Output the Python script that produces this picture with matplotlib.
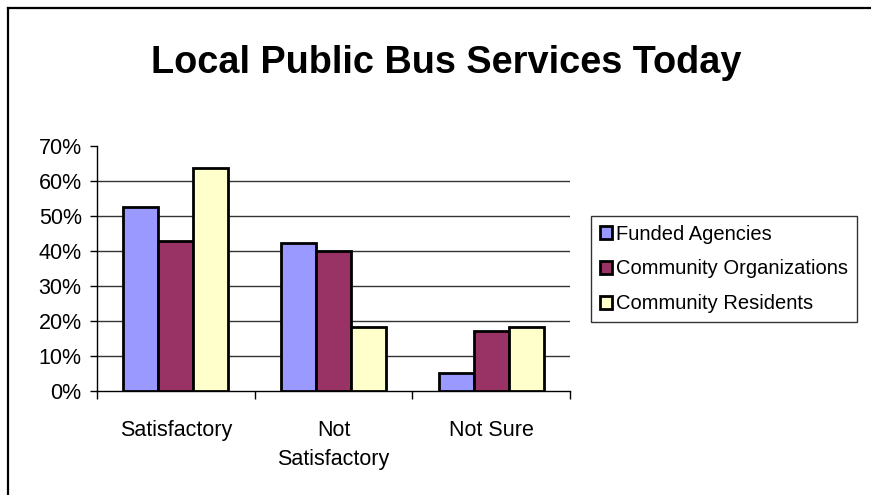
import matplotlib
matplotlib.use("Agg")
import matplotlib.pyplot as plt
from matplotlib.lines import Line2D
import numpy as np

plt.rcParams["font.family"] = ["Liberation Sans", "DejaVu Sans"]

categories = ["Satisfactory", "Not\nSatisfactory", "Not Sure"]
groups = ["Funded Agencies", "Community Organizations", "Community Residents"]
funded = [52.6, 42.1, 5.2]
community_orgs = [42.9, 40.0, 17.0]
residents = [63.6, 18.1, 18.1]
colors = ["#9999FF", "#993366", "#FFFFCC"]

W, H = 871, 495
fig = plt.figure(figsize=(W / 100, H / 100), dpi=100)

# outer chart border (only top and left edges show)
fig.add_artist(Line2D([8 / W, 1], [1 - 8 / H, 1 - 8 / H], color="black", lw=1.6,
                      transform=fig.transFigure))
fig.add_artist(Line2D([8 / W, 8 / W], [0, 1 - 8 / H], color="black", lw=1.6,
                      transform=fig.transFigure))

ax = fig.add_axes([97 / W, 1 - 390.7 / H, (570 - 97) / W, (390.7 - 145.7) / H])

x = np.arange(len(categories))
bw = 0.222
for i, (vals, name) in enumerate(zip([funded, community_orgs, residents], groups)):
    ax.bar(x + (i - 1) * bw, vals, bw, color=colors[i], edgecolor="black",
           linewidth=2.0, label=name, zorder=3)

ax.set_xlim(-0.5, 2.5)
ax.set_ylim(0, 70)
ax.set_yticks(np.arange(0, 71, 10))
ax.set_yticklabels([f"{v}%" for v in range(0, 71, 10)], fontsize=15.5)
for v in range(10, 70, 10):
    ax.axhline(v, color="#333333", lw=1.0, zorder=1)

ax.set_xticks(x)
ax.set_xticklabels(categories, fontsize=15.5, linespacing=1.5)
ax.tick_params(axis="x", length=0, pad=21)
ax.set_xticks([-0.5, 0.5, 1.5, 2.5], minor=True)
ax.tick_params(axis="x", which="minor", direction="out", length=6, width=1, color="black")
ax.tick_params(axis="y", direction="out", length=5, width=1, color="black", pad=6)

for s in ["top", "right"]:
    ax.spines[s].set_visible(False)
for s in ["left", "bottom"]:
    ax.spines[s].set_color("black")
    ax.spines[s].set_linewidth(1.0)

fig.text(0.512, 1 - 73.3 / H, "Local Public Bus Services Today", fontsize=27.3,
         fontweight="bold", ha="center", va="baseline")

leg = fig.legend(loc="upper left", bbox_to_anchor=(590.7 / W, 1 - 215.7 / H),
                 fontsize=14.5, frameon=True, fancybox=False, edgecolor="black",
                 handlelength=0.62, handleheight=0.62, handletextpad=0.2,
                 labelspacing=0.78, borderpad=0.45, borderaxespad=0)
leg.get_frame().set_linewidth(1.0)
for h in leg.legend_handles:
    h.set_linewidth(2.0)

fig.savefig("out.png", dpi=100)
